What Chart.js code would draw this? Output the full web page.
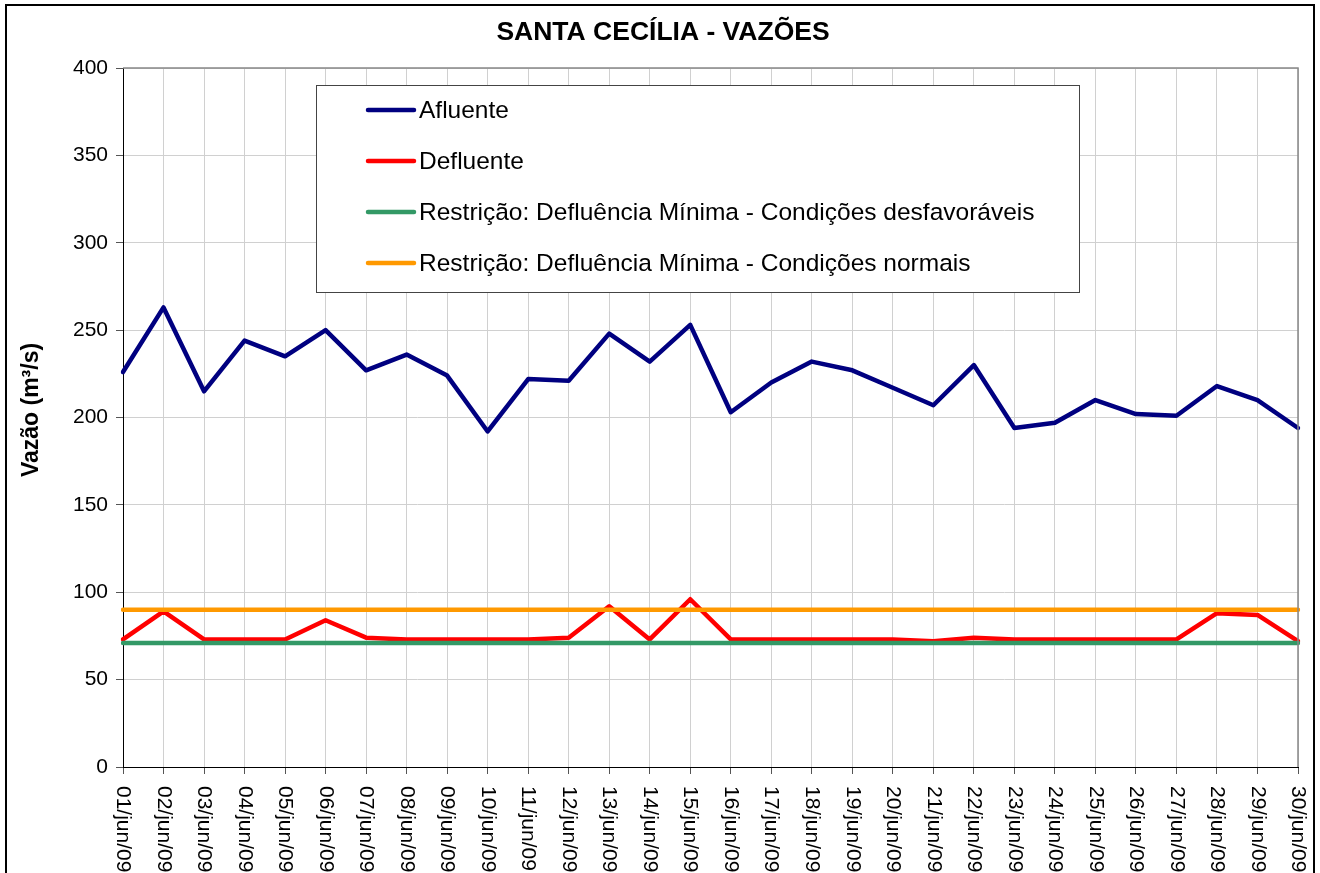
<!DOCTYPE html>
<html>
<head>
<meta charset="utf-8">
<title>Santa Cecília - Vazões</title>
<script src="https://cdn.jsdelivr.net/npm/chart.js@4/dist/chart.umd.min.js"></script>
<style>
  body { margin: 0; background: #fff; }
  #chart { display: block; }
</style>
</head>
<body>
<canvas id="chart" width="1320" height="873"></canvas>
<script>
const chartTitle = 'SANTA CECÍLIA - VAZÕES';
const yTitle = 'Vazão (m³/s)';

const days = [
  '01/jun/09', '02/jun/09', '03/jun/09', '04/jun/09', '05/jun/09', '06/jun/09',
  '07/jun/09', '08/jun/09', '09/jun/09', '10/jun/09', '11/jun/09', '12/jun/09',
  '13/jun/09', '14/jun/09', '15/jun/09', '16/jun/09', '17/jun/09', '18/jun/09',
  '19/jun/09', '20/jun/09', '21/jun/09', '22/jun/09', '23/jun/09', '24/jun/09',
  '25/jun/09', '26/jun/09', '27/jun/09', '28/jun/09', '29/jun/09', '30/jun/09'
];

const afluente = [226, 263, 215, 244, 235, 250, 227, 236, 224, 192,
                  222, 221, 248, 232, 253, 203, 220, 232, 227, 217,
                  207, 230, 194, 197, 210, 202, 201, 218, 210, 194];

const defluente = [73, 89, 73, 73, 73, 84, 74, 73, 73, 73,
                   73, 74, 92, 73, 96, 73, 73, 73, 73, 73,
                   72, 74, 73, 73, 73, 73, 73, 88, 87, 72];

const minDesfavoraveis = [71, 71, 71, 71, 71, 71, 71, 71, 71, 71,
                          71, 71, 71, 71, 71, 71, 71, 71, 71, 71,
                          71, 71, 71, 71, 71, 71, 71, 71, 71, 71];

const minNormais = [90, 90, 90, 90, 90, 90, 90, 90, 90, 90,
                    90, 90, 90, 90, 90, 90, 90, 90, 90, 90,
                    90, 90, 90, 90, 90, 90, 90, 90, 90, 90];

const yTicks = [0, 50, 100, 150, 200, 250, 300, 350, 400];

const FONT = '"Liberation Sans", Arial, sans-serif';

const lineDataset = (label, data, color, order) => ({
  label,
  data,
  borderColor: color,
  backgroundColor: color,
  borderWidth: 4.5,
  pointRadius: 0,
  tension: 0,
  fill: false,
  borderJoinStyle: 'round',
  borderCapStyle: 'round',
  order,
});

// title, axis labels, legend box and frame are drawn by hand to match the Excel look
const extras = {
  id: 'extras',
  afterDraw(chart) {
    const ctx = chart.ctx;
    const area = chart.chartArea;
    const xScale = chart.scales.x;

    ctx.save();

    // grey top/right border of the plot area
    ctx.strokeStyle = '#888';
    ctx.lineWidth = 1.5;
    ctx.beginPath();
    ctx.moveTo(area.left, area.top);
    ctx.lineTo(area.right, area.top);
    ctx.lineTo(area.right, area.bottom);
    ctx.stroke();

    // rotated date labels, reading downwards
    ctx.fillStyle = '#000';
    ctx.font = '21px ' + FONT;
    ctx.textAlign = 'left';
    ctx.textBaseline = 'middle';
    days.forEach((d, i) => {
      const px = xScale.getPixelForTick(i);
      ctx.save();
      ctx.translate(px, area.bottom + 19);
      ctx.rotate(Math.PI / 2);
      ctx.fillText(d, 0, 0);
      ctx.restore();
    });

    // chart title
    ctx.font = 'bold 26.5px ' + FONT;
    ctx.textAlign = 'center';
    ctx.textBaseline = 'alphabetic';
    ctx.fillText(chartTitle, 663, 40);

    // y axis title
    ctx.save();
    ctx.translate(38, 410);
    ctx.rotate(-Math.PI / 2);
    ctx.font = 'bold 23px ' + FONT;
    ctx.fillText(yTitle, 0, 0);
    ctx.restore();

    // legend
    const box = { x: 316.5, y: 85.5, w: 763, h: 207 };
    ctx.fillStyle = '#fff';
    ctx.fillRect(box.x, box.y, box.w, box.h);
    ctx.strokeStyle = '#444';
    ctx.lineWidth = 1;
    ctx.strokeRect(box.x, box.y, box.w, box.h);

    const rows = [110, 161, 212, 263];
    ctx.font = '24.5px ' + FONT;
    ctx.textAlign = 'left';
    ctx.textBaseline = 'middle';
    chart.data.datasets.forEach((ds, i) => {
      const y = rows[i];
      ctx.strokeStyle = ds.borderColor;
      ctx.lineWidth = 4.5;
      ctx.lineCap = 'round';
      ctx.beginPath();
      ctx.moveTo(368, y);
      ctx.lineTo(414, y);
      ctx.stroke();
      ctx.fillStyle = '#000';
      ctx.fillText(ds.label, 419, y + 1);
    });

    // outer frame
    ctx.strokeStyle = '#000';
    ctx.lineWidth = 2;
    ctx.strokeRect(6, 5, 1308, 1000);

    ctx.restore();
  }
};

new Chart(document.getElementById('chart').getContext('2d'), {
  type: 'line',
  data: {
    labels: days,
    datasets: [
      lineDataset('Afluente', afluente, '#000080', 3),
      lineDataset('Defluente', defluente, '#ff0000', 2),
      lineDataset('Restrição: Defluência Mínima - Condições desfavoráveis', minDesfavoraveis, '#339966', 1),
      lineDataset('Restrição: Defluência Mínima - Condições normais', minNormais, '#ff9900', 0),
    ],
  },
  options: {
    responsive: false,
    animation: false,
    layout: { padding: { top: 68, right: 22, left: 0, bottom: 0 } },
    plugins: {
      legend: { display: false },
      title: { display: false },
      tooltip: { enabled: false },
    },
    scales: {
      x: {
        offset: false,
        grid: { color: '#d0d0d0', tickColor: '#555', tickLength: 7, offset: false },
        border: { color: '#000', width: 1 },
        ticks: { display: false, autoSkip: false },
        afterFit: (scale) => { scale.height = 106; },
      },
      y: {
        min: yTicks[0],
        max: yTicks[yTicks.length - 1],
        afterBuildTicks: (scale) => { scale.ticks = yTicks.map((v) => ({ value: v })); },
        grid: { color: '#d0d0d0', tickColor: '#555', tickLength: 7 },
        border: { color: '#000', width: 1 },
        ticks: { color: '#000', padding: 8, font: { family: FONT, size: 21 } },
        afterFit: (scale) => { scale.width = 123; },
      },
    },
  },
  plugins: [extras],
});
</script>
</body>
</html>
